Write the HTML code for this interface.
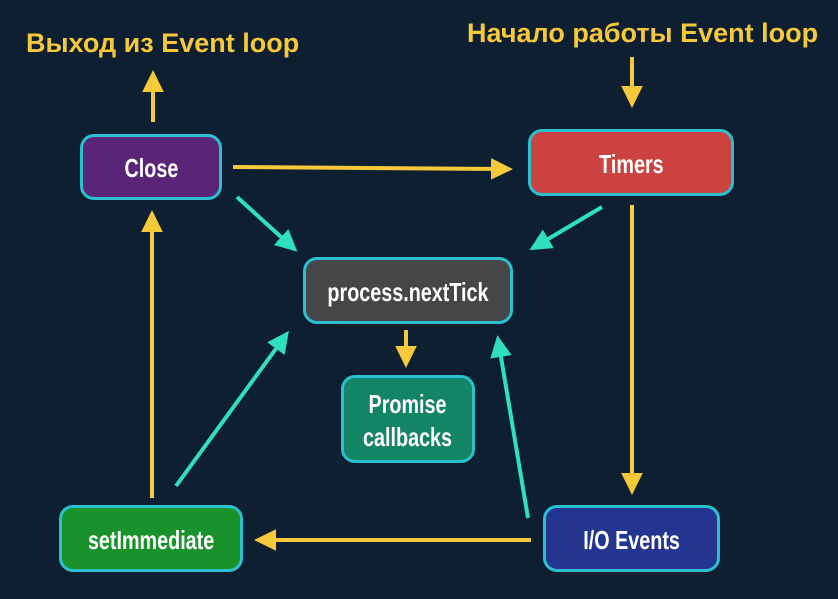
<!DOCTYPE html>
<html><head><meta charset="utf-8"><style>
html,body{margin:0;padding:0;background:#0e1f32;}
body{width:838px;height:599px;overflow:hidden;position:relative;font-family:"Liberation Sans",sans-serif;}
.b{position:absolute;box-sizing:border-box;border:3px solid #2bbfd0;border-radius:14px;color:#fff;font-weight:bold;font-size:26px;display:flex;align-items:center;justify-content:center;text-align:center;line-height:33px;padding-top:3px;}
.b span{display:inline-block;transform:scaleX(0.76);white-space:nowrap;}
.t{position:absolute;color:#f5c93a;font-family:"Liberation Sans","DejaVu Sans",sans-serif;font-weight:bold;font-size:27px;white-space:nowrap;}
svg{position:absolute;left:0;top:0}
</style></head><body>
<svg width="838" height="599">
<defs>
<marker id="y" markerWidth="6" markerHeight="6" refX="3" refY="3" orient="auto" markerUnits="strokeWidth"><path d="M0,0.3 L5.5,3 L0,5.7 z" fill="#f5c93a"/></marker>
<marker id="c" markerWidth="6" markerHeight="6" refX="3" refY="3" orient="auto" markerUnits="strokeWidth"><path d="M0,0.3 L5.5,3 L0,5.7 z" fill="#2ee0c0"/></marker>
</defs>
<g stroke="#f5c93a" stroke-width="4" fill="none" marker-end="url(#y)">
<line x1="153" y1="122" x2="153" y2="80"/>
<line x1="233" y1="167" x2="503" y2="169"/>
<line x1="632" y1="57" x2="632" y2="98"/>
<line x1="632" y1="205" x2="632" y2="485"/>
<line x1="531" y1="540" x2="264" y2="540"/>
<line x1="152" y1="498" x2="152" y2="220"/>
<line x1="406" y1="330" x2="406" y2="358"/>
</g>
<g stroke="#2ee0c0" stroke-width="4" fill="none" marker-end="url(#c)">
<line x1="237" y1="197" x2="290" y2="245"/>
<line x1="602" y1="207" x2="538" y2="245"/>
<line x1="176" y1="486" x2="283" y2="339"/>
<line x1="528" y1="518" x2="499" y2="345"/>
</g>
</svg>
<div class="t" style="left:26px;top:28px;">Выход из Event loop</div>
<div class="t" style="left:467px;top:18px;">Начало работы Event loop</div>
<div class="b" style="left:80px;top:134px;width:142px;height:66px;background:#5b2577;"><span>Close</span></div>
<div class="b" style="left:528px;top:129px;width:206px;height:67px;background:#cc4240;"><span>Timers</span></div>
<div class="b" style="left:303px;top:257px;width:210px;height:67px;background:#444648;"><span>process.nextTick</span></div>
<div class="b" style="left:341px;top:375px;width:134px;height:88px;background:#148466;"><span>Promise<br>callbacks</span></div>
<div class="b" style="left:59px;top:505px;width:184px;height:67px;background:#1a922c;"><span>setImmediate</span></div>
<div class="b" style="left:543px;top:505px;width:177px;height:67px;background:#243590;"><span>I/O Events</span></div>
</body></html>
